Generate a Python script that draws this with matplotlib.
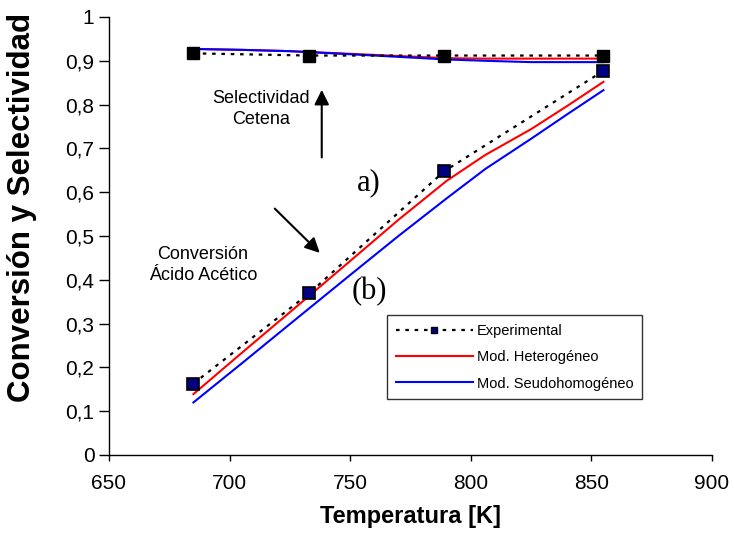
import matplotlib
matplotlib.use("Agg")
import matplotlib.pyplot as plt
from matplotlib.ticker import FuncFormatter, MultipleLocator

plt.rcParams["font.family"] = ["Liberation Sans", "DejaVu Sans"]

# experimental points
temp_exp = [685, 733, 789, 855]
sel_exp = [0.917, 0.912, 0.912, 0.912]
conv_exp = [0.163, 0.369, 0.648, 0.877]

# model curves
temp_mod = [685, 705, 725, 750, 770, 790, 806, 825, 840, 855]
sel_het = [0.927, 0.925, 0.922, 0.916, 0.911, 0.906, 0.905, 0.905, 0.905, 0.905]
sel_pseudo = [0.927, 0.925, 0.922, 0.915, 0.909, 0.903, 0.900, 0.897, 0.897, 0.897]
conv_het = [0.139, 0.233, 0.326, 0.443, 0.537, 0.626, 0.685, 0.744, 0.797, 0.852]
conv_pseudo = [0.120, 0.209, 0.299, 0.411, 0.500, 0.586, 0.653, 0.722, 0.778, 0.833]

W, H = 734, 538
fig = plt.figure(figsize=(W / 100, H / 100), dpi=100)
ax = fig.add_axes([109 / W, 1 - 455 / H, 603 / W, 438 / H])

dots = (0, (1.6, 2.6))
ax.plot(temp_mod, sel_het, color="#ff0000", lw=1.5, zorder=2)
ax.plot(temp_mod, sel_pseudo, color="#0000ff", lw=1.5, zorder=2)
ax.plot(temp_exp, sel_exp, color="black", ls=dots, lw=1.6, marker="s", ms=8.5,
        mfc="black", mec="black", zorder=3)

ax.plot(temp_mod, conv_het, color="#ff0000", lw=1.5, zorder=2)
ax.plot(temp_mod, conv_pseudo, color="#0000ff", lw=1.5, zorder=2)
ax.plot(temp_exp, conv_exp, color="black", ls=dots, lw=1.6, marker="s", ms=8.5,
        mfc="#000080", mec="black", mew=1.2, zorder=3)

# legend handles
h_exp, = ax.plot([], [], color="black", ls=dots, lw=1.6, marker="s", ms=5,
                 mfc="#000080", mec="black", label="Experimental")
h_het, = ax.plot([], [], color="#ff0000", lw=1.5, label="Mod. Heterogéneo")
h_ps, = ax.plot([], [], color="#0000ff", lw=1.5, label="Mod. Seudohomogéneo")
leg = ax.legend(handles=[h_exp, h_het, h_ps], loc="upper left",
                bbox_to_anchor=(387 / W, 1 - 315 / H), bbox_transform=fig.transFigure,
                fontsize=10.5, frameon=True, fancybox=False, edgecolor="black",
                handlelength=5.3, handletextpad=0.25, labelspacing=0.85,
                borderpad=0.6, borderaxespad=0, numpoints=1)
leg.get_frame().set_linewidth(1.0)

# annotations
ax.annotate("", xy=(738.2, 0.840), xytext=(738.2, 0.673),
            arrowprops=dict(arrowstyle="-|>", color="black", lw=1.5, mutation_scale=22))
ax.annotate("", xy=(738.2, 0.457), xytext=(717.9, 0.567),
            arrowprops=dict(arrowstyle="-|>", color="black", lw=1.5, mutation_scale=22))
ax.text(713, 0.79, "Selectividad\nCetena", ha="center", va="center", fontsize=13,
        linespacing=1.3)
ax.text(689, 0.434, "Conversión\nÁcido Acético", ha="center", va="center", fontsize=13,
        linespacing=1.3)
ax.text(757.8, 0.621, "a)", ha="center", va="center", fontsize=22,
        family="Liberation Serif")
ax.text(757.8, 0.374, "(b)", ha="center", va="center", fontsize=22,
        family="Liberation Serif")

ax.set_xlim(650, 900)
ax.set_ylim(0, 1)
ax.xaxis.set_major_locator(MultipleLocator(50))
ax.yaxis.set_major_locator(MultipleLocator(0.1))
ax.yaxis.set_major_formatter(FuncFormatter(lambda v, p: f"{v:.1f}".replace(".", ",")
                                           if 0 < v < 1 else f"{v:.0f}"))
for s in ("top", "right"):
    ax.spines[s].set_visible(False)
for s in ("left", "bottom"):
    ax.spines[s].set_linewidth(1.0)
ax.tick_params(axis="y", direction="out", length=7, width=1, pad=3.5, labelsize=15)
ax.tick_params(axis="x", direction="out", length=4.5, width=1, pad=9, labelsize=15)

fig.text(411 / W, 1 - 517 / H, "Temperatura [K]", ha="center", va="center",
         fontsize=17, fontweight="bold")
fig.text(22 / W, 1 - 207 / H, "Conversión y Selectividad", ha="center", va="center",
         rotation=90, fontsize=22.5, fontweight="bold")

fig.savefig("out.png", dpi=100)
